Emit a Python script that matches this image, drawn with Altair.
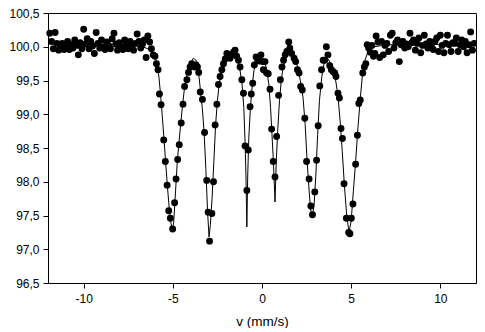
import altair as alt
import pandas as pd

# Measured points (velocity mm/s, relative transmission %)
BASE_LEFT = [
    (-11.9, 100.20), (-11.8, 100.08), (-11.7, 99.97), (-11.6, 100.21), (-11.5, 100.05),
    (-11.4, 99.95), (-11.3, 99.98), (-11.2, 100.05), (-11.1, 99.96), (-11.0, 100.02),
    (-10.9, 100.08), (-10.8, 99.96), (-10.7, 100.03), (-10.6, 99.98), (-10.5, 100.10),
    (-10.4, 100.02), (-10.3, 99.88), (-10.2, 100.06), (-10.1, 99.97), (-10.0, 100.26),
    (-9.9, 100.04), (-9.8, 100.12), (-9.7, 99.97), (-9.6, 100.08), (-9.5, 100.01),
    (-9.4, 99.90), (-9.3, 100.21), (-9.2, 100.05), (-9.1, 99.98), (-9.0, 100.10),
    (-8.9, 100.00), (-8.8, 99.96), (-8.7, 100.07), (-8.6, 100.02), (-8.5, 99.97),
    (-8.4, 100.12), (-8.3, 100.20), (-8.2, 100.04), (-8.1, 99.95), (-8.0, 100.06),
    (-7.9, 100.00), (-7.8, 99.96), (-7.7, 100.10), (-7.6, 100.03), (-7.5, 99.97),
    (-7.4, 100.08), (-7.3, 100.02), (-7.2, 99.95), (-7.1, 100.05), (-7.0, 100.19),
    (-6.9, 100.08), (-6.8, 99.98), (-6.7, 100.04), (-6.6, 100.10), (-6.5, 99.84),
    (-6.4, 100.16), (-6.3, 100.07), (-6.2, 99.97), (-6.1, 99.88), (-6.0, 99.86),
]

DIPS = [
    (-5.92, 99.75), (-5.83, 99.66), (-5.75, 99.30), (-5.66, 99.14), (-5.51, 98.62),
    (-5.42, 98.30), (-5.32, 97.95), (-5.23, 97.57), (-5.14, 97.46), (-5.01, 97.30),
    (-4.90, 97.69), (-4.82, 98.04), (-4.73, 98.33), (-4.64, 98.55), (-4.53, 98.87),
    (-4.43, 99.15), (-4.34, 99.41), (-4.21, 99.51), (-4.12, 99.62), (-4.03, 99.70),
    (-3.94, 99.75), (-3.86, 99.72), (-3.78, 99.70), (-3.70, 99.73), (-3.62, 99.70),
    (-3.55, 99.62), (-3.46, 99.33), (-3.34, 99.22), (-3.22, 98.73), (-3.10, 98.02),
    (-3.02, 97.55), (-2.94, 97.12), (-2.81, 97.53), (-2.72, 98.00), (-2.63, 98.84),
    (-2.53, 99.15), (-2.44, 99.44), (-2.35, 99.56), (-2.25, 99.66), (-2.16, 99.75),
    (-2.06, 99.82), (-1.97, 99.90), (-1.88, 99.86), (-1.79, 99.83), (-1.70, 99.88),
    (-1.60, 99.92), (-1.51, 99.95), (-1.42, 99.86), (-1.32, 99.80), (-1.23, 99.70),
    (-1.13, 99.51), (-1.04, 99.31), (-0.95, 98.53), (-0.85, 97.87), (-0.77, 98.47),
    (-0.67, 99.11), (-0.60, 99.30), (-0.52, 99.46), (-0.43, 99.73), (-0.33, 99.85),
    (-0.24, 99.80), (-0.15, 99.79), (-0.06, 99.88), (0.03, 99.78), (0.08, 99.66),
    (0.17, 99.78), (0.26, 99.61), (0.35, 99.60), (0.45, 99.37), (0.54, 98.78),
    (0.63, 98.30), (0.73, 98.07), (0.82, 98.67), (0.93, 99.28), (1.03, 99.51),
    (1.12, 99.70), (1.21, 99.80), (1.30, 99.88), (1.39, 99.93), (1.50, 100.07),
    (1.56, 99.98), (1.66, 99.90), (1.80, 99.83), (1.89, 99.78), (1.99, 99.66),
    (2.08, 99.61), (2.17, 99.41), (2.26, 99.36), (2.40, 98.94), (2.50, 98.30),
    (2.64, 98.04), (2.74, 97.64), (2.83, 97.51), (2.96, 97.85), (3.06, 98.32),
    (3.15, 98.83), (3.24, 99.42), (3.34, 99.66), (3.43, 99.80), (3.52, 99.80),
    (3.61, 100.00), (3.70, 99.88), (3.80, 99.72), (3.89, 99.66), (3.99, 99.63),
    (4.08, 99.61), (4.15, 99.56), (4.26, 99.31), (4.34, 99.24), (4.43, 98.79),
    (4.51, 98.64), (4.60, 97.97), (4.73, 97.46), (4.86, 97.25), (4.93, 97.23),
    (5.01, 97.46), (5.10, 97.67), (5.25, 98.26), (5.35, 98.69), (5.43, 99.16),
    (5.51, 99.21), (5.65, 99.61), (5.74, 99.70), (5.82, 99.75), (5.90, 100.03),
    (5.98, 99.98), (6.07, 99.92), (6.16, 100.02), (6.25, 99.86), (6.33, 99.90),
]

BASE_RIGHT = [
    (6.4, 100.16), (6.5, 100.07), (6.6, 99.84), (6.7, 100.08), (6.8, 99.88),
    (6.9, 100.02), (7.0, 100.05), (7.1, 99.93), (7.2, 100.17), (7.3, 100.20),
    (7.4, 99.98), (7.5, 100.06), (7.6, 100.10), (7.7, 99.78), (7.8, 100.03),
    (7.9, 100.08), (8.0, 99.98), (8.1, 100.04), (8.2, 100.00), (8.3, 100.20),
    (8.4, 100.06), (8.5, 100.10), (8.6, 99.95), (8.7, 100.05), (8.8, 100.13),
    (8.9, 99.91), (9.0, 100.02), (9.1, 100.17), (9.2, 100.04), (9.3, 99.98),
    (9.4, 100.08), (9.5, 100.01), (9.6, 99.96), (9.7, 100.08), (9.8, 100.13),
    (9.9, 99.93), (10.0, 100.17), (10.1, 100.02), (10.2, 99.91), (10.3, 100.05),
    (10.4, 100.17), (10.5, 100.03), (10.6, 99.93), (10.7, 100.06), (10.8, 100.05),
    (10.9, 100.13), (11.0, 99.93), (11.1, 100.03), (11.2, 100.10), (11.3, 100.00),
    (11.4, 100.08), (11.5, 99.91), (11.6, 100.03), (11.7, 100.22), (11.8, 99.95),
    (11.9, 100.05),
]

# Fitted curve vertices
FIT = [
    (-12.0, 100.04), (-8.0, 100.03), (-6.8, 100.01), (-6.4, 99.97), (-6.2, 99.92),
    (-6.0, 99.85), (-5.9, 99.76), (-5.8, 99.60), (-5.7, 99.33), (-5.6, 99.00),
    (-5.5, 98.65), (-5.4, 98.28), (-5.3, 97.92), (-5.2, 97.60), (-5.1, 97.38),
    (-5.03, 97.28), (-4.95, 97.40), (-4.85, 97.85), (-4.75, 98.30), (-4.65, 98.60),
    (-4.55, 98.88), (-4.45, 99.15), (-4.35, 99.38), (-4.2, 99.58), (-4.0, 99.76),
    (-3.85, 99.83), (-3.7, 99.80), (-3.55, 99.60), (-3.45, 99.35), (-3.35, 99.10),
    (-3.25, 98.75), (-3.15, 98.20), (-3.05, 97.55), (-2.97, 97.18), (-2.9, 97.35),
    (-2.8, 97.75), (-2.7, 98.30), (-2.6, 98.85), (-2.5, 99.20), (-2.4, 99.45),
    (-2.25, 99.66), (-2.05, 99.82), (-1.8, 99.88), (-1.6, 99.88), (-1.4, 99.82),
    (-1.25, 99.68), (-1.12, 99.45), (-1.02, 99.10), (-0.95, 98.60), (-0.9, 98.10),
    (-0.85, 97.33), (-0.8, 98.10), (-0.74, 98.65), (-0.65, 99.10), (-0.55, 99.42),
    (-0.45, 99.65), (-0.3, 99.82), (-0.1, 99.88), (0.1, 99.82), (0.25, 99.68),
    (0.38, 99.45), (0.48, 99.10), (0.56, 98.70), (0.64, 98.30), (0.73, 97.70),
    (0.8, 98.30), (0.88, 98.75), (0.98, 99.20), (1.08, 99.50), (1.2, 99.72),
    (1.4, 99.88), (1.6, 99.92), (1.8, 99.85), (2.0, 99.70), (2.15, 99.50),
    (2.3, 99.25), (2.42, 98.85), (2.52, 98.35), (2.62, 97.95), (2.72, 97.60),
    (2.82, 97.48), (2.92, 97.65), (3.02, 98.10), (3.12, 98.70), (3.22, 99.20),
    (3.35, 99.55), (3.5, 99.78), (3.7, 99.82), (3.9, 99.73), (4.1, 99.55),
    (4.25, 99.30), (4.38, 98.90), (4.5, 98.45), (4.62, 97.95), (4.75, 97.50),
    (4.88, 97.25), (5.0, 97.42), (5.12, 97.85), (5.25, 98.30), (5.38, 98.80),
    (5.5, 99.20), (5.62, 99.55), (5.75, 99.78), (5.95, 99.93), (6.3, 100.00),
    (7.0, 100.03), (12.0, 100.04),
]

X_TICKS = [-10, -5, 0, 5, 10]
Y_TICKS = [96.5, 97.0, 97.5, 98.0, 98.5, 99.0, 99.5, 100.0, 100.5]

FONT = "Liberation Sans"

pts = pd.DataFrame(BASE_LEFT + DIPS + BASE_RIGHT, columns=["v", "t"])
fit = pd.DataFrame(FIT, columns=["v", "t"])

xscale = alt.Scale(domain=[-12, 12], nice=False, zero=False)
yscale = alt.Scale(domain=[96.5, 100.5], nice=False, zero=False)

xaxis = alt.Axis(
    title="v (mm/s)", values=X_TICKS, labelExpr="'' + datum.value", grid=False,
    tickSize=5, labelPadding=5, titlePadding=10, labelFontSize=12, titleFontSize=13.5,
    titleFontWeight="normal", labelColor="black", titleColor="black",
    domainColor="black", tickColor="black", labelFont=FONT, titleFont=FONT,
    labelOverlap=False, labelFlush=False,
)
yaxis = alt.Axis(
    title=None, values=Y_TICKS,
    labelExpr="replace(format(datum.value, '.1f'), '.', ',')", grid=False,
    tickSize=5, labelPadding=4, labelFontSize=12, labelColor="black",
    domainColor="black", tickColor="black", labelFont=FONT,
    labelOverlap=False, labelFlush=False,
)

line = alt.Chart(fit).mark_line(color="black", strokeWidth=1).encode(
    x=alt.X("v:Q", scale=xscale, axis=xaxis),
    y=alt.Y("t:Q", scale=yscale, axis=yaxis),
)
dots = alt.Chart(pts).mark_circle(color="black", size=48, opacity=1).encode(
    x=alt.X("v:Q", scale=xscale, axis=xaxis),
    y=alt.Y("t:Q", scale=yscale, axis=yaxis),
)

chart = (
    alt.layer(line, dots)
    .properties(
        width=428, height=270,
        autosize=alt.AutoSizeParams(type="none"),
        padding={"left": 40, "top": 5, "right": 1, "bottom": 45},
        background="white",
    )
    .configure_view(stroke="black", strokeWidth=1)
    .configure_axis(labelOverlap=False)
)

chart.save("out.html", embed_options={"renderer": "svg", "actions": False})
